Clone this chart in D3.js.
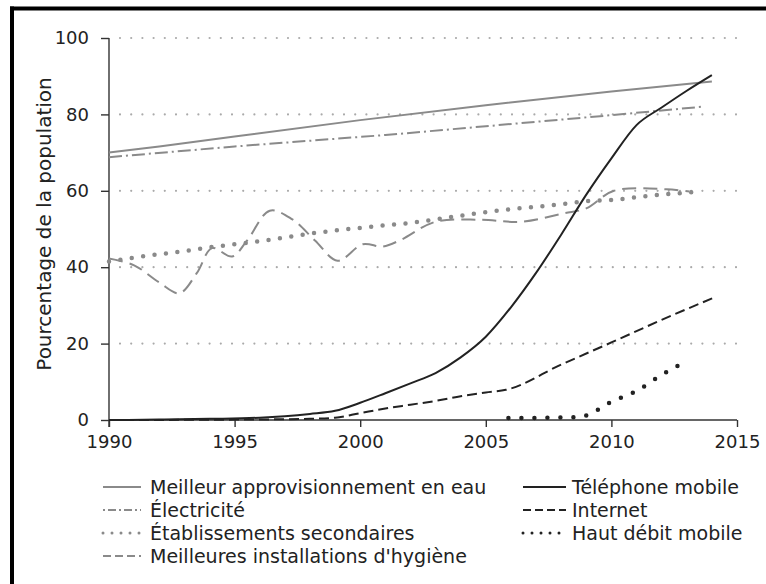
<!DOCTYPE html>
<html><head><meta charset="utf-8">
<script src="https://cdn.jsdelivr.net/npm/d3@7"></script>
<style>
html,body{margin:0;padding:0;background:#fff;}
text{font-family:"DejaVu Sans",sans-serif;}
</style></head>
<body>
<svg id="c" width="766" height="584"></svg>
<script>
// ---- data ----
const yTicks = [0, 20, 40, 60, 80, 100];
const xTicks = [1990, 1995, 2000, 2005, 2010, 2015];
const yTitle = "Pourcentage de la population";

const waterYears  = [1990, 1992, 1995, 2000, 2005, 2010, 2014];
const waterVals   = [70.0, 71.6, 74.2, 78.5, 82.4, 86.0, 88.6];

const elecYears   = [1990, 1995, 2001, 2005, 2010, 2013.6];
const elecVals    = [68.8, 71.6, 74.6, 76.9, 79.8, 82.0];

const schoolYears = [1990, 1991, 1992, 1993, 1994, 1995, 1996, 1997, 1998, 1999, 2000, 2001, 2002, 2003, 2004, 2005, 2006, 2007, 2008, 2009, 2010, 2011, 2012, 2013, 2013.6];
const schoolVals  = [41.5, 42.5, 43.4, 44.2, 45.2, 46.0, 46.8, 47.8, 48.8, 49.6, 50.3, 51.0, 51.6, 52.5, 53.5, 54.4, 55.2, 55.8, 56.5, 57.3, 57.6, 58.3, 59.0, 59.5, 60.0];

const sanYears    = [1990, 1991, 1992, 1992.8, 1993.5, 1994.1, 1994.9, 1995.5, 1996.4, 1997.3, 1998.2, 1999.1, 2000.1, 2000.9, 2001.6, 2003, 2004.8, 2006.4, 2008.1, 2009, 2010.1, 2012.2, 2013.1];
const sanVals     = [42.3, 40.5, 36.0, 33.2, 38.5, 45.0, 42.8, 47.0, 54.8, 52.5, 47.0, 41.7, 46.0, 45.4, 47.1, 51.9, 52.4, 51.9, 54.1, 55.4, 60.0, 60.4, 59.8];

const mobileYears = [1990, 1992, 1994, 1996, 1997, 1998, 1999, 2000, 2001, 2002, 2003, 2004, 2005, 2006, 2007, 2008, 2009, 2010, 2011, 2012, 2013, 2014];
const mobileVals  = [0.0, 0.1, 0.3, 0.6, 1.0, 1.6, 2.4, 4.5, 7.0, 9.6, 12.3, 16.4, 21.8, 29.5, 38.5, 48.5, 59.0, 68.5, 77.2, 81.8, 86.2, 90.3];

const netYears    = [1990, 1995, 1997, 1998, 1999, 2000, 2001, 2002, 2003, 2004, 2005, 2005.8, 2008, 2010, 2012, 2014.1];
const netVals     = [0.0, 0.1, 0.2, 0.3, 0.6, 1.8, 3.0, 4.0, 5.0, 6.2, 7.2, 7.9, 14.5, 20.3, 26.2, 32.1];

const bbYears     = [2005.9, 2008.5, 2009, 2010, 2011, 2012, 2012.7];
const bbVals      = [0.5, 0.7, 1.2, 4.8, 7.6, 11.8, 14.4];

const legendLeft  = ["Meilleur approvisionnement en eau", "Électricité", "Établissements secondaires", "Meilleures installations d'hygiène"];
const legendRight = ["Téléphone mobile", "Internet", "Haut débit mobile"];

// ---- drawing ----
const svg = d3.select("#c");
const x = d3.scaleLinear().domain([1990, 2015]).range([109, 737]);
const y = d3.scaleLinear().domain([0, 100]).range([420, 38]);

const grey = "#8a8a8a", dark = "#222";
const FONT = '"DejaVu Sans",sans-serif';

// frame
svg.append("line").attr("x1", 10).attr("x2", 766).attr("y1", 8.5).attr("y2", 8.5).attr("stroke", "#000").attr("stroke-width", 4);
svg.append("line").attr("x1", 12).attr("x2", 12).attr("y1", 6.5).attr("y2", 584).attr("stroke", "#000").attr("stroke-width", 4);

// grid
svg.append("g").selectAll("line").data(yTicks.filter(d => d > 0)).join("line")
  .attr("x1", 120).attr("x2", 740).attr("y1", d => y(d)).attr("y2", d => y(d))
  .attr("stroke", "#aaa").attr("stroke-width", 2.2).attr("stroke-linecap", "round")
  .attr("stroke-dasharray", "0,11.2");

// axes
const yAxis = d3.axisLeft(y).tickValues(yTicks).tickSize(8).tickPadding(12);
const gy = svg.append("g").attr("transform", "translate(109,0)").call(yAxis);
const xAxis = d3.axisBottom(x).tickValues(xTicks).tickFormat(d3.format("d")).tickSize(7).tickPadding(8);
const gx = svg.append("g").attr("transform", "translate(0,420)").call(xAxis);
[gx, gy].forEach(g => {
  g.select(".domain").attr("stroke", "#333").attr("stroke-width", 1.4);
  g.selectAll(".tick line").attr("stroke", "#333").attr("stroke-width", 1.4);
  g.selectAll(".tick text").attr("fill", "#222").style("font-size", "18px").style("font-family", FONT);
});
gx.select(".domain").attr("d", "M109,0H737");
gy.select(".domain").attr("d", "M0," + (y(0) + 7) + "V" + y(100));

svg.append("text").attr("transform", "translate(44,224) rotate(-90)")
  .attr("text-anchor", "middle").attr("dy", "0.35em").attr("fill", "#222")
  .style("font-size", "20px").text(yTitle);

// series
const series = [
  {xs: waterYears, ys: waterVals, color: grey, w: 2, dash: null, cap: "butt", curve: d3.curveLinear},
  {xs: elecYears, ys: elecVals, color: grey, w: 2, dash: "13,4,2,4", cap: "butt", curve: d3.curveLinear},
  {xs: schoolYears, ys: schoolVals, color: grey, w: 4.5, dash: "0,11.5", cap: "round", curve: d3.curveMonotoneX},
  {xs: sanYears, ys: sanVals, color: grey, w: 2, dash: "14,7", cap: "butt", curve: d3.curveCatmullRom.alpha(0.5)},
  {xs: mobileYears, ys: mobileVals, color: dark, w: 2, dash: null, cap: "butt", curve: d3.curveMonotoneX},
  {xs: netYears, ys: netVals, color: dark, w: 2, dash: "10,5", cap: "butt", curve: d3.curveMonotoneX},
  {xs: bbYears, ys: bbVals, color: dark, w: 4.5, dash: "0,13", cap: "round", curve: d3.curveMonotoneX}
];
series.forEach(s => {
  const pts = s.xs.map((d, i) => [d, s.ys[i]]);
  const line = d3.line().x(d => x(d[0])).y(d => y(d[1])).curve(s.curve);
  svg.append("path").attr("d", line(pts)).attr("fill", "none")
    .attr("stroke", s.color).attr("stroke-width", s.w).attr("stroke-linecap", s.cap)
    .attr("stroke-dasharray", s.dash);
});

// legend
const legStyles = [
  {color: grey, w: 2, dash: null, cap: "butt"},
  {color: grey, w: 2, dash: "2,3,8,3", cap: "butt"},
  {color: grey, w: 3, dash: "0,9", cap: "round"},
  {color: grey, w: 2, dash: "8,4", cap: "butt"}
];
const legStylesR = [
  {color: dark, w: 2, dash: null, cap: "butt"},
  {color: dark, w: 2, dash: "8,4", cap: "butt"},
  {color: dark, w: 3, dash: "0,9", cap: "round"}
];
function legend(items, styles, x0, x1, tx) {
  const g = svg.append("g");
  items.forEach((t, i) => {
    const yy = 487 + i * 23;
    const s = styles[i];
    g.append("line").attr("x1", x0).attr("x2", x1).attr("y1", yy).attr("y2", yy)
      .attr("stroke", s.color).attr("stroke-width", s.w).attr("stroke-linecap", s.cap)
      .attr("stroke-dasharray", s.dash);
    g.append("text").attr("x", tx).attr("y", yy).attr("dy", "0.35em")
      .attr("fill", "#222").style("font-size", "19px").text(t);
  });
}
legend(legendLeft, legStyles, 103, 141, 150);
legend(legendRight, legStylesR, 523, 566, 572);
</script>
</body></html>
